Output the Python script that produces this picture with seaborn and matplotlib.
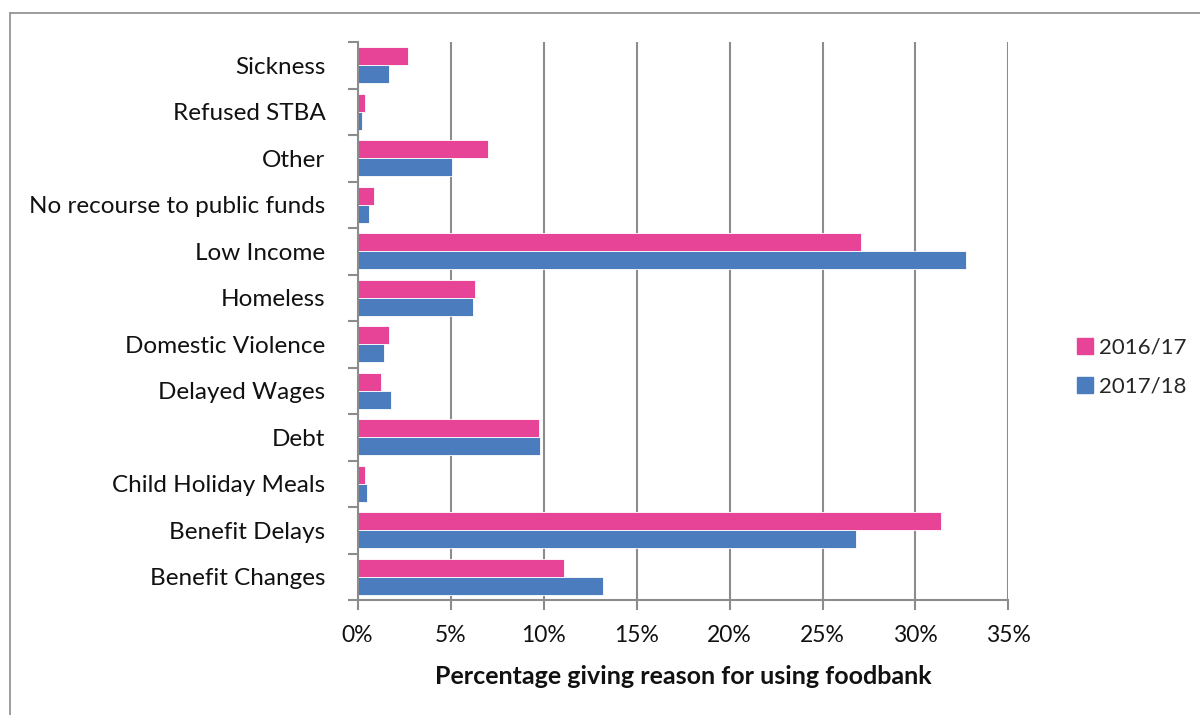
import matplotlib
matplotlib.use("Agg")
import matplotlib.pyplot as plt
import matplotlib.lines as mlines
from matplotlib.ticker import PercentFormatter, MultipleLocator, FixedLocator
import seaborn as sns
import pandas as pd
import numpy as np

categories = ["Sickness", "Refused STBA", "Other", "No recourse to public funds",
              "Low Income", "Homeless", "Domestic Violence", "Delayed Wages",
              "Debt", "Child Holiday Meals", "Benefit Delays", "Benefit Changes"]
series_names = ["2016/17", "2017/18"]
values_2016 = [2.7, 0.4, 7.0, 0.9, 27.05, 6.3, 1.7, 1.25, 9.75, 0.4, 31.35, 11.1]
values_2017 = [1.7, 0.25, 5.1, 0.6, 32.7, 6.2, 1.4, 1.8, 9.8, 0.5, 26.8, 13.2]
x_label = "Percentage giving reason for using foodbank"

colors = {"2016/17": "#E84497", "2017/18": "#4A7CBE"}

df = pd.DataFrame({
    "Reason": categories * 2,
    "Year": [series_names[0]] * len(categories) + [series_names[1]] * len(categories),
    "Value": values_2016 + values_2017,
})

sns.set_theme(style="white")
plt.rcParams["font.family"] = ["Lato", "DejaVu Sans"]

W, H = 1200, 715
fig = plt.figure(figsize=(W / 100, H / 100), dpi=100)
left, right, top, bottom = 357.5, 1008.5, 42, 600
ax = fig.add_axes([left / W, 1 - bottom / H, (right - left) / W, (bottom - top) / H])

sns.barplot(data=df, y="Reason", x="Value", hue="Year", order=categories,
            hue_order=series_names, palette=colors, saturation=1, orient="h", width=0.78,
            gap=0, edgecolor="white", linewidth=0.6, ax=ax, legend=False)

ax.set_xlim(0, 35)
ax.set_ylim(len(categories) - 0.5, -0.5)
ax.xaxis.set_major_locator(MultipleLocator(5))
ax.xaxis.set_major_formatter(PercentFormatter(xmax=100, decimals=0))
ax.grid(axis="x", color="#8C8C8C", linewidth=1.5)
ax.grid(axis="y", visible=False)
ax.set_axisbelow(True)

for s in ["top", "right"]:
    ax.spines[s].set_visible(False)
for s in ["left", "bottom"]:
    ax.spines[s].set_color("#8C8C8C")
    ax.spines[s].set_linewidth(1.5)

ax.yaxis.set_minor_locator(FixedLocator(np.arange(-0.5, len(categories), 1.0)))
ax.tick_params(axis="y", which="major", length=0, labelsize=17.5, pad=23, labelcolor="#111111")
ax.tick_params(axis="y", which="minor", left=True, length=7, width=1.5, color="#8C8C8C")
ax.tick_params(axis="x", which="major", bottom=True, length=7, width=1.5, color="#8C8C8C",
               labelsize=16.5, pad=11, labelcolor="#111111")

ax.set_ylabel("")
ax.set_xlabel(x_label, fontsize=18, fontweight="bold", labelpad=14, color="#111111")

handles = [mlines.Line2D([], [], marker="s", linestyle="none", markersize=11,
                         markerfacecolor=colors[n], markeredgecolor=colors[n]) for n in series_names]
fig.legend(handles, series_names, loc="center", bbox_to_anchor=(1131 / W, 1 - 367 / H),
           frameon=False, fontsize=16, handletextpad=0.2, labelspacing=0.85,
           handlelength=0.9)

# outer border (top and left only visible)
fig.add_artist(mlines.Line2D([10 / W, 10 / W], [0, 1 - 13 / H], transform=fig.transFigure,
                             color="#8C8C8C", linewidth=1.2))
fig.add_artist(mlines.Line2D([10 / W, 1], [1 - 13 / H, 1 - 13 / H], transform=fig.transFigure,
                             color="#8C8C8C", linewidth=1.2))

fig.savefig("out.png", dpi=100)
